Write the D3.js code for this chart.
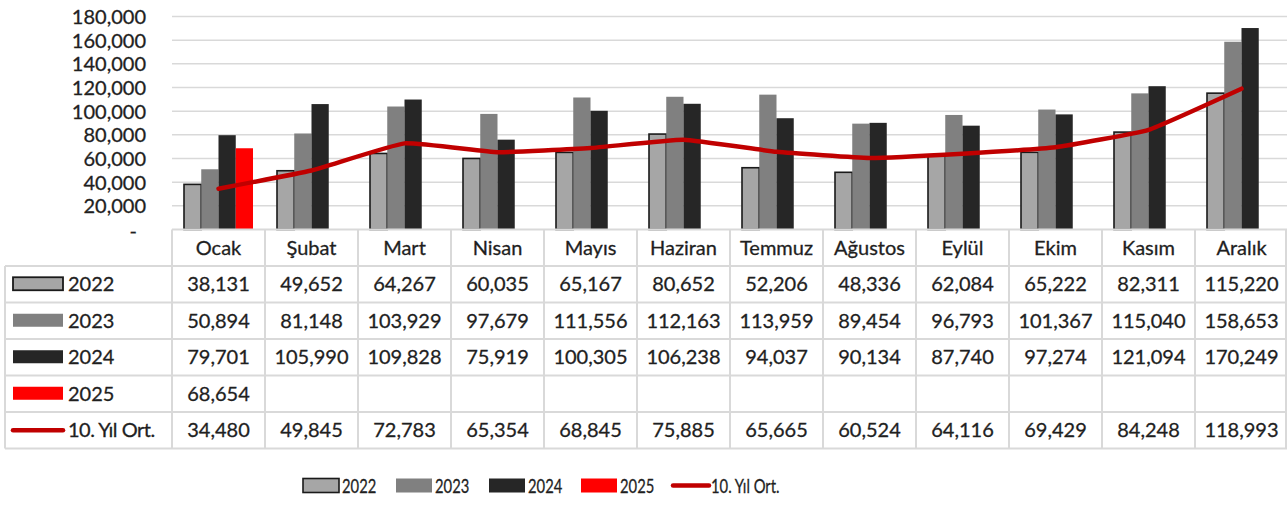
<!DOCTYPE html>
<html><head><meta charset="utf-8">
<script src="https://cdn.jsdelivr.net/npm/d3@7"></script>
<style>
html,body{margin:0;padding:0;background:#fff;}
text{font-family:Lato,"Open Sans",sans-serif;fill:#1f1f1f;stroke:#1f1f1f;stroke-width:0.3px;}
</style></head>
<body>
<svg id="c" width="1287" height="516"></svg>
<script>
const months = ["Ocak","Şubat","Mart","Nisan","Mayıs","Haziran","Temmuz","Ağustos","Eylül","Ekim","Kasım","Aralık"];
const v2022 = [38131,49652,64267,60035,65167,80652,52206,48336,62084,65222,82311,115220];
const v2023 = [50894,81148,103929,97679,111556,112163,113959,89454,96793,101367,115040,158653];
const v2024 = [79701,105990,109828,75919,100305,106238,94037,90134,87740,97274,121094,170249];
const v2025 = [68654,null,null,null,null,null,null,null,null,null,null,null];
const avg10 = [34480,49845,72783,65354,68845,75885,65665,60524,64116,69429,84248,118993];
const yTicks = [0,20000,40000,60000,80000,100000,120000,140000,160000,180000];
const seriesNames = ["2022","2023","2024","2025"];
const lineName = "10. Yıl Ort.";

const colors = {"2022":"#a6a6a6","2023":"#808080","2024":"#262626","2025":"#ff0000"};
const lineColor = "#c00000";
const grid = "#d9d9d9";

const svg = d3.select("#c");
const fmt = d3.format(",");

const x = d3.scaleBand().domain(months).range([172, 1288]).padding(0);
const xs = d3.scaleBand().domain(seriesNames).range([12, x.bandwidth()-12]).padding(0);
const y = d3.scaleLinear().domain([0,180000]).range([229.5,16.5]);

// gridlines
svg.append("g").selectAll("line").data(yTicks.filter(d=>d>0)).join("line")
  .attr("x1",172).attr("x2",1287).attr("y1",d=>y(d)).attr("y2",d=>y(d))
  .attr("stroke",grid).attr("stroke-width",1.5);

// y axis labels
const yAxis = d3.axisLeft(y).tickValues(yTicks).tickSize(0).tickPadding(0)
  .tickFormat(d=> d===0 ? "-" : fmt(d));
const ya = svg.append("g").attr("transform","translate(146,0)").call(yAxis);
ya.select(".domain").remove();
ya.selectAll("text").style("font-size","20px").attr("fill","#1f1f1f").attr("dy","0.35em");
ya.selectAll(".tick").filter(d=>d===0).select("text").attr("x",-9).attr("dy","0.4em");

// bars
const seriesData = {"2022":v2022,"2023":v2023,"2024":v2024,"2025":v2025};
seriesNames.forEach(s=>{
  const g = svg.append("g");
  g.selectAll("rect").data(months.map((m,i)=>({m,v:seriesData[s][i]})).filter(d=>d.v!=null)).join("rect")
    .attr("x",d=>x(d.m)+xs(s)).attr("width",xs.bandwidth())
    .attr("y",d=>y(d.v)).attr("height",d=>y(0)-y(d.v))
    .attr("fill",colors[s])
    .attr("stroke", s==="2022" ? "#1a1a1a" : "none")
    .attr("stroke-width", s==="2022" ? 1.6 : 0);
});

// line
const line = d3.line().x((d,i)=>x(months[i])+x.bandwidth()/2).y(d=>y(d)).curve(d3.curveCardinal.tension(0.65));
svg.append("path").datum(avg10).attr("d",line).attr("fill","none")
  .attr("stroke",lineColor).attr("stroke-width",4.5).attr("stroke-linejoin","round").attr("stroke-linecap","round");

// table
const rowTops = [229.5,266,302.5,339,375.5,412,448.5];
const tg = svg.append("g");
tg.append("line").attr("x1",172).attr("x2",1287).attr("y1",229.5).attr("y2",229.5).attr("stroke",grid).attr("stroke-width",2);
rowTops.slice(1).forEach(yy=>{
  tg.append("line").attr("x1",5).attr("x2",1287).attr("y1",yy).attr("y2",yy).attr("stroke",grid).attr("stroke-width",2);
});
tg.append("line").attr("x1",5).attr("x2",5).attr("y1",266).attr("y2",448.5).attr("stroke",grid).attr("stroke-width",2);
months.forEach(m=>{
  tg.append("line").attr("x1",x(m)).attr("x2",x(m)).attr("y1",229.5).attr("y2",448.5).attr("stroke",grid).attr("stroke-width",2);
});
tg.append("line").attr("x1",1286).attr("x2",1286).attr("y1",229.5).attr("y2",448.5).attr("stroke",grid).attr("stroke-width",2);

tg.selectAll("text.h").data(months).join("text").attr("class","h")
  .attr("x",m=>x(m)+x.bandwidth()/2).attr("y",(rowTops[0]+rowTops[1])/2).attr("dy","0.35em")
  .attr("text-anchor","middle").style("font-size","20px").text(m=>m);

const rows = [
  {name:"2022", vals:v2022, type:"bar"},
  {name:"2023", vals:v2023, type:"bar"},
  {name:"2024", vals:v2024, type:"bar"},
  {name:"2025", vals:v2025, type:"bar"},
  {name:lineName, vals:avg10, type:"line"}
];
rows.forEach((r,ri)=>{
  const cy = (rowTops[ri+1]+rowTops[ri+2])/2;
  if(r.type==="bar"){
    tg.append("rect").attr("x",13).attr("y",cy-7).attr("width",50).attr("height",13)
      .attr("fill",colors[r.name]).attr("stroke", r.name==="2022"?"#1a1a1a":"none").attr("stroke-width",1.8);
  } else {
    tg.append("line").attr("x1",13).attr("x2",63).attr("y1",cy).attr("y2",cy)
      .attr("stroke",lineColor).attr("stroke-width",4.5).attr("stroke-linecap","round");
  }
  tg.append("text").attr("x",68).attr("y",cy).attr("dy","0.35em").style("font-size","20px")
    .style("letter-spacing", r.type==="line" ? "-0.5px" : null).text(r.name);
  tg.selectAll(null).data(r.vals.map((v,i)=>({v,m:months[i]})).filter(d=>d.v!=null)).join("text")
    .attr("x",d=>x(d.m)+x.bandwidth()/2).attr("y",cy).attr("dy","0.35em")
    .attr("text-anchor","middle").style("font-size","20px").text(d=>fmt(d.v));
});

// bottom legend
const leg = [
  {name:"2022", type:"bar", x:303},
  {name:"2023", type:"bar", x:396},
  {name:"2024", type:"bar", x:489},
  {name:"2025", type:"bar", x:581},
  {name:lineName, type:"line", x:672}
];
const lg = svg.append("g");
const ly = 485.5;
leg.forEach(l=>{
  if(l.type==="bar"){
    lg.append("rect").attr("x",l.x).attr("y",ly-7).attr("width",36).attr("height",14)
      .attr("fill",colors[l.name]).attr("stroke", l.name==="2022"?"#1a1a1a":"none").attr("stroke-width",1.6);
  } else {
    lg.append("line").attr("x1",l.x+1).attr("x2",l.x+37).attr("y1",ly).attr("y2",ly)
      .attr("stroke",lineColor).attr("stroke-width",4.5).attr("stroke-linecap","round");
  }
  lg.append("text").attr("transform",`translate(${l.x+39},${ly}) scale(0.74,1)`)
    .attr("dy","0.35em").style("font-size","20px").text(l.name);
});
</script>
</body></html>
